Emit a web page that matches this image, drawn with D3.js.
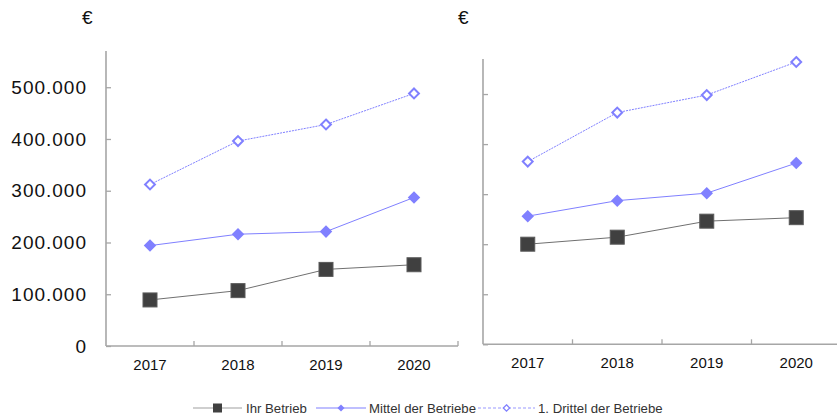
<!DOCTYPE html>
<html>
<head>
<meta charset="utf-8">
<script src="https://cdn.jsdelivr.net/npm/d3@7"></script>
<style>
  body { margin: 0; background: #fff; }
  svg { display: block; font-family: "Liberation Sans", Arial, sans-serif; }
</style>
</head>
<body>
<svg id="chart" width="837" height="419"></svg>
<script>
const years = ['2017', '2018', '2019', '2020'];
const yTicks = [0, 100000, 200000, 300000, 400000, 500000];

// left panel
const leftIhr = [89000, 107000, 148000, 157000];
const leftMittel = [194000, 216000, 221000, 287000];
const leftDrittel = [312000, 396000, 428000, 488000];

// right panel
const rightIhr = [200000, 214000, 246000, 253000];
const rightMittel = [256000, 287000, 302000, 362000];
const rightDrittel = [365000, 463000, 498000, 564000];

const seriesNames = ['Ihr Betrieb', 'Mittel der Betriebe', '1. Drittel der Betriebe'];

let de = d3.formatLocale({decimal: ',', thousands: '.', grouping: [3], currency: ['', '€']});
let fmt = de.format(',');

let svg = d3.select('#chart');
let axisColor = '#a6a6a6';

let drawPanel = (opts) => {
    let x = d3.scaleBand().domain(years).range([opts.x0, opts.x1]);
    let y = d3.scaleLinear().domain([0, 570000]).range([opts.yBottom, opts.yTop]);
    let g = svg.append('g');

    // y axis
    let yAxis = d3.axisLeft(y).tickValues(yTicks).tickSize(-5).tickPadding(19)
                  .tickFormat(opts.labels ? fmt : '');
    let ya = g.append('g').attr('transform', `translate(${opts.x0},0)`).call(yAxis);
    ya.select('.domain').remove();
    ya.selectAll('.tick line').attr('stroke', axisColor).attr('stroke-width', 1.3);
    ya.selectAll('.tick text').attr('font-size', 19).attr('fill', '#111')
      .attr('letter-spacing', 1);
    g.append('line')
     .attr('x1', opts.x0).attr('x2', opts.x0)
     .attr('y1', opts.yTop).attr('y2', opts.yBottom)
     .attr('stroke', axisColor).attr('stroke-width', 1.6);

    // x axis
    g.append('line')
     .attr('x1', opts.x0).attr('x2', opts.x1)
     .attr('y1', opts.yBottom).attr('y2', opts.yBottom)
     .attr('stroke', axisColor).attr('stroke-width', 1.6);
    let bounds = years.slice(1).map(d => x(d));
    if (opts.endTick) bounds.push(opts.x1);
    g.selectAll('.xtick').data(bounds).enter().append('line')
     .attr('x1', d => d).attr('x2', d => d)
     .attr('y1', opts.yBottom).attr('y2', opts.yBottom - 5)
     .attr('stroke', axisColor).attr('stroke-width', 1.3);
    g.selectAll('.xlabel').data(years).enter().append('text')
     .attr('x', d => x(d) + x.bandwidth() / 2)
     .attr('y', opts.yBottom + 24)
     .attr('text-anchor', 'middle')
     .attr('font-size', 15).attr('fill', '#111')
     .text(d => d);

    // euro sign
    g.append('text').attr('x', opts.euroX).attr('y', 24)
     .attr('font-size', 19).attr('fill', '#111').text('€');

    let cx = (d, i) => x(years[i]) + x.bandwidth() / 2;
    let line = d3.line().x((d, i) => cx(d, i)).y(d => y(d));

    // 1. Drittel
    g.append('path').datum(opts.drittel).attr('d', line)
     .attr('fill', 'none').attr('stroke', '#8080ff').attr('stroke-width', 1)
     .attr('stroke-dasharray', '2,1');
    g.selectAll('.drittel').data(opts.drittel).enter().append('path')
     .attr('d', d3.symbol(d3.symbolDiamond2, 62))
     .attr('transform', (d, i) => `translate(${cx(d, i)},${y(d)})`)
     .attr('fill', '#fff').attr('stroke', '#8080ff').attr('stroke-width', 2);

    // Mittel
    g.append('path').datum(opts.mittel).attr('d', line)
     .attr('fill', 'none').attr('stroke', '#8080ff').attr('stroke-width', 1);
    g.selectAll('.mittel').data(opts.mittel).enter().append('path')
     .attr('d', d3.symbol(d3.symbolDiamond2, 100))
     .attr('transform', (d, i) => `translate(${cx(d, i)},${y(d)})`)
     .attr('fill', '#8080ff');

    // Ihr Betrieb
    g.append('path').datum(opts.ihr).attr('d', line)
     .attr('fill', 'none').attr('stroke', '#707070').attr('stroke-width', 1);
    g.selectAll('.ihr').data(opts.ihr).enter().append('rect')
     .attr('x', (d, i) => cx(d, i) - 7).attr('y', d => y(d) - 7)
     .attr('width', 14).attr('height', 14)
     .attr('fill', '#404040').attr('stroke', '#5a5a5a').attr('stroke-width', 1);
};

drawPanel({x0: 106, x1: 458, yTop: 51, yBottom: 346, labels: true, endTick: true, euroX: 82,
           ihr: leftIhr, mittel: leftMittel, drittel: leftDrittel});
drawPanel({x0: 483, x1: 841, yTop: 59, yBottom: 344.3, labels: false, endTick: false, euroX: 458,
           ihr: rightIhr, mittel: rightMittel, drittel: rightDrittel});

// legend
let legend = svg.append('g').attr('transform', 'translate(0,408)');
let legItems = [
    {x0: 193, x1: 242, text: 246},
    {x0: 316, x1: 366, text: 369},
    {x0: 478, x1: 535, text: 538}
];
legItems.forEach((it, i) => {
    let mid = (it.x0 + it.x1) / 2;
    let ln = legend.append('line').attr('x1', it.x0).attr('x2', it.x1)
                   .attr('y1', 0).attr('y2', 0).attr('stroke-width', 1.2);
    if (i === 0) {
        ln.attr('stroke', '#a0a0a0');
        legend.append('rect').attr('x', mid - 4.5).attr('y', -4.5).attr('width', 9).attr('height', 9)
              .attr('fill', '#404040');
    } else if (i === 1) {
        ln.attr('stroke', '#8080ff');
        legend.append('path').attr('d', d3.symbol(d3.symbolDiamond2, 32))
              .attr('transform', `translate(${mid},0)`).attr('fill', '#8080ff');
    } else {
        ln.attr('stroke', '#9999ff').attr('stroke-dasharray', '3,2');
        legend.append('path').attr('d', d3.symbol(d3.symbolDiamond2, 26))
              .attr('transform', `translate(${mid},0)`).attr('fill', '#fff')
              .attr('stroke', '#8080ff').attr('stroke-width', 1.3);
    }
    legend.append('text').attr('x', it.text).attr('y', 5)
          .attr('font-size', 13.2).attr('fill', '#333').text(seriesNames[i]);
});
</script>
</body>
</html>
